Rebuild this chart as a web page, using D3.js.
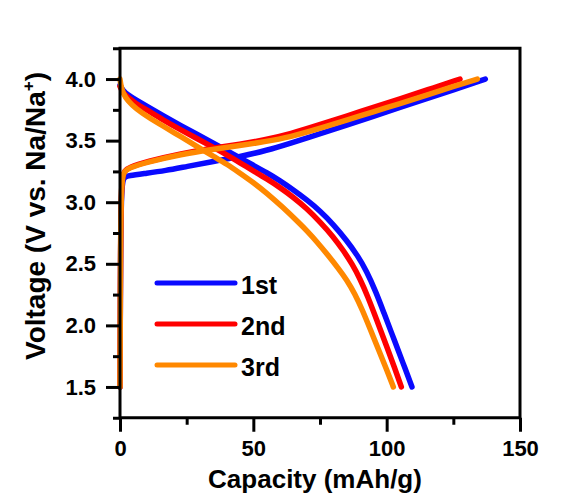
<!DOCTYPE html>
<html>
<head>
<meta charset="utf-8">
<script src="https://cdn.jsdelivr.net/npm/d3@7"></script>
<style>
  body { margin: 0; background: #fff; }
  svg text { font-family: "Liberation Sans", Arial, sans-serif; font-weight: bold; fill: #000; }
</style>
</head>
<body>
<svg id="chart" width="579" height="501"></svg>
<script>
// cycle labels and colours
const cycles = ['1st', '2nd', '3rd']
const colors = ['#0a0aff', '#ff0000', '#ff8800']

// charge curves [capacity mAh/g, voltage V]
const charge1 = [[0,1.5],[0.2,2.6],[0.5,3.05],[1,3.18],[1.8,3.205],[3,3.215],[10,3.235],[17,3.256],[25,3.29],[35,3.33],[45,3.37],[55,3.42],[64,3.48],[75,3.555],[85,3.625],[95,3.695],[105,3.77],[115,3.84],[125,3.91],[137,4.0]]
const charge2 = [[0,1.5],[0.2,2.7],[0.5,3.1],[1,3.22],[1.8,3.255],[3,3.28],[10,3.33],[23,3.395],[35,3.44],[45,3.47],[54,3.505],[64,3.555],[75,3.63],[85,3.7],[95,3.77],[105,3.84],[115,3.91],[127.5,4.0]]
const charge3 = [[0,1.5],[0.2,2.7],[0.5,3.1],[1,3.22],[1.8,3.25],[3,3.275],[10,3.325],[23,3.39],[35,3.43],[45,3.46],[54,3.49],[64,3.53],[75,3.6],[85,3.665],[95,3.735],[105,3.8],[115,3.87],[125,3.94],[134,4.0]]

// discharge curves
const discharge1 = [[0,3.95],[1,3.91],[3,3.87],[6,3.83],[10,3.78],[16,3.705],[23,3.62],[29,3.55],[35,3.48],[40,3.42],[45,3.36],[50,3.3],[55,3.24],[60,3.175],[65,3.1],[70,3.02],[75,2.93],[80,2.82],[85,2.69],[89,2.57],[92.5,2.44],[96,2.27],[99,2.1],[102,1.93],[104,1.815],[107,1.645],[109.5,1.5]]
const discharge2 = [[0,3.94],[1,3.89],[3,3.85],[6,3.8],[10,3.75],[16,3.67],[23,3.585],[29,3.515],[35,3.445],[40,3.385],[45,3.32],[50,3.255],[55,3.19],[60,3.12],[65,3.04],[70,2.95],[75,2.84],[80,2.72],[84,2.6],[87,2.5],[90,2.38],[93,2.23],[96,2.06],[100,1.83],[103,1.655],[105.5,1.5]]
const discharge3 = [[0,4.0],[0.3,3.95],[1,3.89],[3,3.82],[6,3.76],[10.6,3.69],[16,3.62],[23,3.53],[29,3.45],[35.6,3.365],[40,3.31],[44.4,3.245],[50,3.16],[55,3.075],[61,2.96],[67,2.835],[70,2.77],[74,2.675],[78,2.57],[82,2.46],[85,2.37],[88,2.26],[91,2.12],[94,1.96],[97,1.8],[100,1.64],[102.5,1.5]]

// ticks
const xMajor = [0, 50, 100, 150]
const xMinor = [25, 75, 125]
const yMajor = [1.5, 2.0, 2.5, 3.0, 3.5, 4.0]
const yMinor = [1.25, 1.75, 2.25, 2.75, 3.25, 3.75, 4.25]

const curves = [[charge1, discharge1], [charge2, discharge2], [charge3, discharge3]]

const svg = d3.select('#chart')
const x = d3.scaleLinear().domain([0, 150]).range([120, 520])
const y = d3.scaleLinear().domain([1.25, 4.25]).range([417.75, 48.25])

// basis spline keeps the curves smooth like the measured data
const line = d3.line()
    .x(d => x(d[0]))
    .y(d => y(d[1]))
    .curve(d3.curveBasis)

// curves, blue first so orange ends on top
curves.forEach((pair, i) => {
    pair.forEach(data => {
        svg.append('path')
            .datum(data)
            .attr('d', line)
            .attr('fill', 'none')
            .attr('stroke', colors[i])
            .attr('stroke-width', 5.5)
            .attr('stroke-linecap', 'round')
            .attr('stroke-linejoin', 'round')
    })
})

// axes
function styleAxis(g) {
    g.select('.domain').remove()
    g.selectAll('line').attr('stroke', '#000').attr('stroke-width', 3)
    g.selectAll('text').style('font-size', '22px')
}

svg.append('g')
    .attr('transform', 'translate(120,0)')
    .call(d3.axisLeft(y).tickValues(yMinor).tickSize(7).tickFormat(''))
    .call(styleAxis)
svg.append('g')
    .attr('transform', 'translate(120,0)')
    .call(d3.axisLeft(y).tickValues(yMajor).tickSize(14).tickPadding(10).tickFormat(d3.format('.1f')))
    .call(styleAxis)
svg.append('g')
    .attr('transform', 'translate(0,417.75)')
    .call(d3.axisBottom(x).tickValues(xMinor).tickSize(7).tickFormat(''))
    .call(styleAxis)
svg.append('g')
    .attr('transform', 'translate(0,417.75)')
    .call(d3.axisBottom(x).tickValues(xMajor).tickSize(14).tickPadding(9))
    .call(styleAxis)

// frame
svg.append('rect')
    .attr('x', x(0)).attr('y', y(4.25))
    .attr('width', x(150) - x(0)).attr('height', y(1.25) - y(4.25))
    .attr('fill', 'none')
    .attr('stroke', '#000')
    .attr('stroke-width', 3)

// axis titles
svg.append('text')
    .attr('x', 315).attr('y', 488)
    .attr('text-anchor', 'middle')
    .style('font-size', '26px')
    .text('Capacity (mAh/g)')

const yt = svg.append('text')
    .attr('transform', 'translate(45,216) rotate(-90)')
    .attr('text-anchor', 'middle')
    .style('font-size', '28px')
yt.append('tspan').text('Voltage (V vs. Na/Na')
yt.append('tspan').attr('dy', -11).style('font-size', '17px').text('+')
yt.append('tspan').attr('dy', 11).text(')')

// legend
const legendY = [283, 324, 365]
cycles.forEach((c, i) => {
    svg.append('line')
        .attr('x1', 157).attr('x2', 235)
        .attr('y1', legendY[i]).attr('y2', legendY[i])
        .attr('stroke', colors[i])
        .attr('stroke-width', 5)
        .attr('stroke-linecap', 'round')
    svg.append('text')
        .attr('x', 241).attr('y', legendY[i] + 10.5)
        .style('font-size', '25px')
        .text(c)
})
</script>
</body>
</html>
